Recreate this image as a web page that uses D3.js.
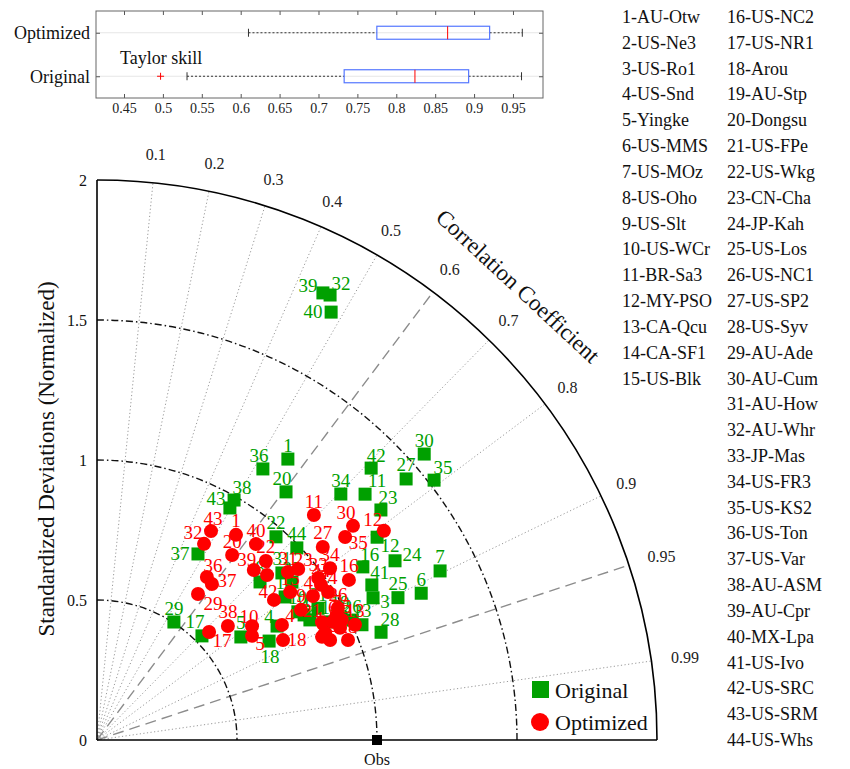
<!DOCTYPE html>
<html><head><meta charset="utf-8">
<script src="https://cdn.jsdelivr.net/npm/d3@7"></script>
<style>
body{margin:0;background:#fff}
svg, text{font-family:"Liberation Serif","Times New Roman",serif}
</style>
</head><body>
<svg id="c" width="850" height="769" font-family="Liberation Serif"></svg>
<script>
// ---------------- DATA ----------------
const siteNames = ["AU-Otw","US-Ne3","US-Ro1","US-Snd","Yingke","US-MMS","US-MOz","US-Oho","US-Slt","US-WCr",
  "BR-Sa3","MY-PSO","CA-Qcu","CA-SF1","US-Blk","US-NC2","US-NR1","Arou","AU-Stp","Dongsu",
  "US-FPe","US-Wkg","CN-Cha","JP-Kah","US-Los","US-NC1","US-SP2","US-Syv","AU-Ade","AU-Cum",
  "AU-How","AU-Whr","JP-Mas","US-FR3","US-KS2","US-Ton","US-Var","AU-ASM","AU-Cpr","MX-Lpa",
  "US-Ivo","US-SRC","US-SRM","US-Whs"];

const origStd  = [1.213,0.864,1.109,0.761,0.632,1.271,1.366,0.811,0.873,0.851,1.299,1.235,1.032,0.933,0.844,1.133,0.528,0.709,0.973,1.114,0.919,0.967,1.305,1.242,1.189,1.007,1.445,1.085,0.503,1.552,0.890,1.794,0.896,1.237,1.520,1.135,0.756,0.987,1.789,1.742,1.127,1.379,0.955,0.990];
const origCorr = [0.562,0.856,0.889,0.845,0.813,0.911,0.897,0.718,0.871,0.843,0.737,0.810,0.917,0.892,0.796,0.838,0.710,0.867,0.892,0.606,0.859,0.661,0.777,0.857,0.904,0.905,0.764,0.935,0.546,0.753,0.742,0.464,0.777,0.704,0.792,0.522,0.477,0.496,0.451,0.480,0.871,0.710,0.497,0.721];
const optStd   = [0.885,0.884,0.956,0.778,0.667,0.942,0.966,0.846,0.864,0.687,1.116,1.268,1.009,0.900,0.869,1.066,0.556,0.754,0.906,0.818,0.907,0.879,0.943,0.980,0.974,0.981,1.061,0.965,0.634,1.192,0.908,0.798,0.979,1.034,1.145,0.702,0.692,0.620,0.826,0.901,0.927,0.806,0.850,0.973];
const optCorr  = [0.561,0.909,0.908,0.849,0.830,0.894,0.887,0.718,0.843,0.806,0.694,0.808,0.913,0.905,0.794,0.844,0.720,0.881,0.919,0.590,0.886,0.686,0.762,0.842,0.898,0.877,0.760,0.929,0.569,0.767,0.751,0.479,0.807,0.805,0.774,0.559,0.593,0.754,0.678,0.630,0.832,0.784,0.479,0.822];

const corrTicks  = [0.1,0.2,0.3,0.4,0.5,0.6,0.7,0.8,0.9,0.95,0.99];
const dashedCorr = [0.6,0.95];
const stdArcs    = [0.5,1,1.5];
const stdTicks   = [0,0.5,1,1.5,2];
const obsStd     = 1;

const skillGroups   = ["Optimized","Original"];
const skillLow      = [0.610,0.531];
const skillQ1       = [0.775,0.733];
const skillMedian   = [0.866,0.824];
const skillQ3       = [0.920,0.893];
const skillHigh     = [0.962,0.961];
const skillOutliers = [[],[0.497]];
const skillTicks    = [0.45,0.5,0.55,0.6,0.65,0.7,0.75,0.8,0.85,0.9,0.95];

// label placement tweaks (layout only)
const labelShift = {
  g39:[-15,-7], g32:[11,-12], g40:[-18,-1], g43:[-14,-9], g38:[8,-13], g37:[-18,0], g35:[9,-13],
  g11:[12,-14], g23:[7,-12], g12:[13,8], g16:[7,-12], g24:[17,-6], g41:[8,-12], g3:[12,4],
  g28:[9,-13], g17:[-7,-14], g18:[1,15], g4:[-8,-10], g20:[-4,-13], g36:[-4,-13], g42:[5,-13],
  r43:[2,-13], r32:[-11,-11], r39:[-7,-10], r35:[13,5], r30:[-7,-13], r12:[-11,-11], r37:[15,-3],
  r29:[15,9], r17:[13,9], r5:[8,8], r18:[14,-1], r4:[8,-9], r42:[-6,-8], r21:[-10,-12],
  r10:[-3,-10], r36:[6,-12], r23:[5,-10]
};

// ---------------- DRAW ----------------
const FONT = "Liberation Serif";
const svg = d3.select("#c");
const GREEN = "#00a000", RED = "#ff0000";

// ===== Box plot (Taylor skill) =====
const bx = d3.scaleLinear().domain([0.414,0.9886]).range([96,543]);
const by = d3.scaleLinear().domain([0.5,2.5]).range([11,98]);
const bp = svg.append("g");

bp.selectAll("line.grid").data(skillGroups).enter().append("line")
  .attr("x1",96).attr("x2",543).attr("y1",(d,i)=>by(i+1)).attr("y2",(d,i)=>by(i+1))
  .attr("stroke","#e6e6e6").attr("stroke-width",1);

const axB = bp.append("g").attr("transform","translate(0,98)")
  .call(d3.axisBottom(bx).tickValues(skillTicks).tickFormat(d3.format("~g")).tickSizeInner(-4).tickSizeOuter(0).tickPadding(5));
const axT = bp.append("g").attr("transform","translate(0,11)")
  .call(d3.axisTop(bx).tickValues(skillTicks).tickFormat("").tickSizeInner(-4).tickSizeOuter(0));
const axL = bp.append("g").attr("transform","translate(96,0)")
  .call(d3.axisLeft(by).tickValues([1,2]).tickFormat(d=>skillGroups[d-1]).tickSizeInner(-4).tickSizeOuter(0).tickPadding(6));
const axR = bp.append("g").attr("transform","translate(543,0)")
  .call(d3.axisRight(by).tickValues([1,2]).tickFormat("").tickSizeInner(-4).tickSizeOuter(0));
[axB,axT,axL,axR].forEach(a=>{a.attr("font-family",FONT); a.select(".domain").remove(); a.selectAll("line").attr("stroke","#555");});
axB.selectAll("text").attr("font-size",14).attr("fill","#222");
axL.selectAll("text").attr("font-size",18).attr("fill","#111");
bp.append("rect").attr("x",96).attr("y",11).attr("width",447).attr("height",87)
  .attr("fill","none").attr("stroke","#666").attr("stroke-width",1);

skillGroups.forEach((g,i)=>{
  const yc = by(i+1), h = 6.5;
  bp.append("line").attr("x1",bx(skillLow[i])).attr("x2",bx(skillQ1[i])).attr("y1",yc).attr("y2",yc)
    .attr("stroke","#333").attr("stroke-dasharray","2,2");
  bp.append("line").attr("x1",bx(skillQ3[i])).attr("x2",bx(skillHigh[i])).attr("y1",yc).attr("y2",yc)
    .attr("stroke","#333").attr("stroke-dasharray","2,2");
  [skillLow[i],skillHigh[i]].forEach(v=>bp.append("line").attr("x1",bx(v)).attr("x2",bx(v))
    .attr("y1",yc-4).attr("y2",yc+4).attr("stroke","#333"));
  bp.append("rect").attr("x",bx(skillQ1[i])).attr("y",yc-h).attr("width",bx(skillQ3[i])-bx(skillQ1[i])).attr("height",2*h)
    .attr("fill","none").attr("stroke","#5577ff").attr("stroke-width",1.2);
  bp.append("line").attr("x1",bx(skillMedian[i])).attr("x2",bx(skillMedian[i])).attr("y1",yc-h).attr("y2",yc+h)
    .attr("stroke",RED).attr("stroke-width",1);
  skillOutliers[i].forEach(v=>{
    bp.append("line").attr("x1",bx(v)-3.5).attr("x2",bx(v)+3.5).attr("y1",yc).attr("y2",yc).attr("stroke",RED);
    bp.append("line").attr("x1",bx(v)).attr("x2",bx(v)).attr("y1",yc-3.5).attr("y2",yc+3.5).attr("stroke",RED);
  });
});
bp.append("text").attr("x",120).attr("y",58).attr("dominant-baseline","central")
  .attr("font-size",18).attr("fill","#111").text("Taylor skill");

// ===== Taylor diagram =====
const ox = 97, oy = 740;
const r = d3.scaleLinear().domain([0,2]).range([0,560]);
const yS = d3.scaleLinear().domain([0,2]).range([oy, oy-560]);
const P = (s,c)=>[ox + r(s)*c, oy - r(s)*Math.sqrt(1-c*c)];
const td = svg.append("g");

// correlation rays
corrTicks.forEach(c=>{
  const [x2,y2] = P(2,c);
  const dashed = dashedCorr.includes(c);
  td.append("line").attr("x1",ox).attr("y1",oy).attr("x2",x2).attr("y2",y2)
    .attr("stroke",dashed?"#8c8c8c":"#9a9a9a")
    .attr("stroke-width",dashed?1.4:1)
    .attr("stroke-dasharray",dashed?"11,6":"1.2,2.4");
  const [lx,ly] = P(2.1,c);
  td.append("text").attr("x",lx+(c>=0.95?6:0)).attr("y",ly).attr("text-anchor","middle").attr("dominant-baseline","central")
    .attr("font-size",16).attr("fill","#222").text(d3.format("~g")(c));
});

// std arcs (dash-dot)
stdArcs.forEach(s=>{
  const R = r(s);
  td.append("path").attr("d",`M${ox},${oy-R} A${R},${R} 0 0 1 ${ox+R},${oy}`)
    .attr("fill","none").attr("stroke","#111").attr("stroke-width",1.4)
    .attr("stroke-dasharray","7,3,1.5,3");
});
// outer arc
td.append("path").attr("d",`M${ox},${oy-r(2)} A${r(2)},${r(2)} 0 0 1 ${ox+r(2)},${oy}`)
  .attr("fill","none").attr("stroke","#000").attr("stroke-width",1.6);
// axes lines
td.append("line").attr("x1",ox).attr("y1",oy).attr("x2",ox).attr("y2",oy-r(2)).attr("stroke","#000").attr("stroke-width",1.6);
td.append("line").attr("x1",ox).attr("y1",oy).attr("x2",ox+r(2)).attr("y2",oy).attr("stroke","#000").attr("stroke-width",1.6);

// y axis ticks
const ay = td.append("g").attr("transform",`translate(${ox},0)`)
  .call(d3.axisLeft(yS).tickValues(stdTicks).tickFormat(d3.format("~g")).tickSizeInner(0).tickSizeOuter(0).tickPadding(10));
ay.attr("font-family",FONT);
ay.select(".domain").remove();
ay.selectAll("text").attr("font-size",16).attr("fill","#111");

// y title
td.append("text").attr("transform",`translate(46,${459}) rotate(-90)`).attr("text-anchor","middle")
  .attr("dominant-baseline","central").attr("font-size",23).attr("fill","#111")
  .text("Standardized Deviations (Normalized)");

// correlation title along arc
{
  const c = 0.68, s = 2.21;
  const [tx,ty] = P(s,c);
  const ang = Math.acos(c)*180/Math.PI;
  td.append("text").attr("transform",`translate(${tx},${ty}) rotate(${90-ang})`)
    .attr("text-anchor","middle").attr("dominant-baseline","central")
    .attr("font-size",23).attr("fill","#111").text("Correlation Coefficient");
}

// Obs
{
  const [x,y] = P(obsStd,1);
  td.append("rect").attr("x",x-5).attr("y",y-5).attr("width",10).attr("height",10).attr("fill","#000");
  td.append("text").attr("x",x).attr("y",y+19).attr("text-anchor","middle").attr("dominant-baseline","central")
    .attr("font-size",16).attr("fill","#111").text("Obs");
}

const orig = origStd.map((s,i)=>({id:i+1,s,c:origCorr[i]}));
const opt  = optStd.map((s,i)=>({id:i+1,s,c:optCorr[i]}));
const LS = 19, SQ = 13, RC = 7;

td.selectAll("rect.orig").data(orig).enter().append("rect")
  .attr("x",d=>P(d.s,d.c)[0]-SQ/2).attr("y",d=>P(d.s,d.c)[1]-SQ/2)
  .attr("width",SQ).attr("height",SQ).attr("fill",GREEN);
td.selectAll("text.origL").data(orig).enter().append("text")
  .attr("x",d=>P(d.s,d.c)[0]+(labelShift["g"+d.id]||[0,-14])[0])
  .attr("y",d=>P(d.s,d.c)[1]+(labelShift["g"+d.id]||[0,-14])[1])
  .attr("text-anchor","middle").attr("dominant-baseline","central")
  .attr("font-size",LS).attr("fill",GREEN).text(d=>d.id);

td.selectAll("circle.opt").data(opt).enter().append("circle")
  .attr("cx",d=>P(d.s,d.c)[0]).attr("cy",d=>P(d.s,d.c)[1]).attr("r",RC).attr("fill",RED);
td.selectAll("text.optL").data(opt).enter().append("text")
  .attr("x",d=>P(d.s,d.c)[0]+(labelShift["r"+d.id]||[0,-14])[0])
  .attr("y",d=>P(d.s,d.c)[1]+(labelShift["r"+d.id]||[0,-14])[1])
  .attr("text-anchor","middle").attr("dominant-baseline","central")
  .attr("font-size",LS).attr("fill",RED).text(d=>d.id);

// legend
const lg = svg.append("g");
lg.append("rect").attr("x",532).attr("y",681).attr("width",17).attr("height",17).attr("fill",GREEN);
lg.append("text").attr("x",555).attr("y",690).attr("dominant-baseline","central").attr("font-size",22).attr("fill","#111").text("Original");
lg.append("circle").attr("cx",540).attr("cy",722).attr("r",9).attr("fill",RED);
lg.append("text").attr("x",555).attr("y",722).attr("dominant-baseline","central").attr("font-size",22).attr("fill","#111").text("Optimized");

// site list: two columns sharing the same row spacing
const rowY = d3.scaleLinear().domain([0,28]).range([17,740]);
svg.append("g").selectAll("text").data(siteNames).enter().append("text")
  .attr("x",(d,i)=> i<15 ? 622 : 727)
  .attr("y",(d,i)=> i<15 ? rowY(i) : rowY(i-15))
  .attr("dominant-baseline","central").attr("font-size",18).attr("fill","#111")
  .text((d,i)=>(i+1)+"-"+d);
</script>
</body></html>
